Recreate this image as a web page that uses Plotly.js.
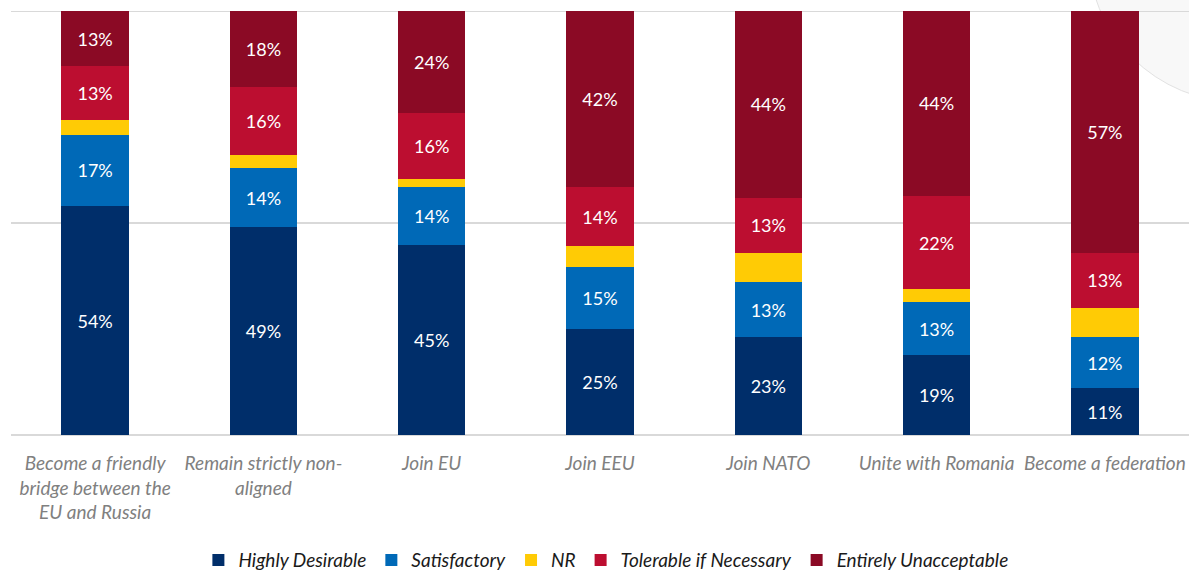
<!DOCTYPE html>
<html>
<head>
<meta charset="utf-8">
<script src="https://cdn.plot.ly/plotly-3.0.1.min.js"></script>
<style>
  html, body { margin: 0; padding: 0; background: #fff; }
  #chart { width: 1189px; height: 571px; }
</style>
</head>
<body>
<div id="chart"></div>
<script>
'use strict';

const categories = [
  'Become a friendly<br>bridge between the<br>EU and Russia',
  'Remain strictly non-<br>aligned',
  'Join EU',
  'Join EEU',
  'Join NATO',
  'Unite with Romania',
  'Become a federation'
];

// shares in % (labels show them rounded)
const highlyDesirable = [54, 49, 44.8, 25, 23, 18.8, 11];
const satisfactory    = [16.8, 14, 13.6, 14.6, 13, 12.6, 12];
const noResponse      = [3.6, 3, 1.9, 5, 7, 3, 7];
const tolerable       = [12.6, 16, 15.6, 13.8, 13, 22, 13];
const unacceptable    = [13, 18, 24.1, 41.6, 44, 43.6, 57];

const seriesNames  = ['Highly Desirable', 'Satisfactory', 'NR', 'Tolerable if Necessary', 'Entirely Unacceptable'];
const seriesValues = [highlyDesirable, satisfactory, noResponse, tolerable, unacceptable];
const seriesColors = ['#002E6A', '#0069B7', '#FFCB05', '#BC0E30', '#8B0A25'];
const showLabels   = [true, true, false, true, true];

const font = 'Lato, "Open Sans", sans-serif';

const data = seriesValues.map((vals, i) => ({
  type: 'bar',
  name: seriesNames[i],
  x: categories,
  y: vals,
  marker: { color: seriesColors[i], line: { width: 0 } },
  text: showLabels[i] ? vals.map(v => Math.round(v) + '%') : vals.map(() => ''),
  textposition: 'inside',
  insidetextanchor: 'middle',
  textangle: 0,
  textfont: { family: font, size: 18, color: '#ffffff' },
  hoverinfo: 'x+y+name'
}));

const layout = {
  width: 1189,
  height: 571,
  barmode: 'stack',
  bargap: 0.6,
  margin: { t: 11, l: 11, r: 0, b: 136, autoexpand: false },
  paper_bgcolor: '#ffffff',
  plot_bgcolor: 'rgba(0,0,0,0)',
  font: { family: font },
  showlegend: true,
  legend: {
    orientation: 'h',
    x: 0.505,
    xanchor: 'center',
    yref: 'container',
    y: 0.019,
    yanchor: 'middle',
    font: { family: font, size: 19, color: '#1a1a1a', style: 'italic' },
    itemwidth: 30,
    traceorder: 'normal'
  },
  xaxis: {
    tickfont: { family: font, size: 19, color: '#808080', style: 'italic' },
    showline: false,
    ticks: '',
    ticklabelstandoff: 15,
    automargin: false,
    fixedrange: true
  },
  yaxis: {
    range: [0, 100],
    dtick: 50,
    showticklabels: false,
    gridcolor: '#d9d9d9',
    gridwidth: 2,
    zeroline: true,
    zerolinecolor: '#d9d9d9',
    zerolinewidth: 2,
    automargin: false,
    fixedrange: true
  },
  shapes: [{
    type: 'circle',
    xref: 'paper', yref: 'paper',
    x0: 0.914, x1: 1.172,
    y0: 0.785, y1: 1.502,
    fillcolor: '#f8f8f8',
    line: { color: '#e2e2e2', width: 1 },
    layer: 'below'
  }, {
    type: 'line',
    xref: 'paper', yref: 'y',
    x0: 0, x1: 1, y0: 100, y1: 100,
    line: { color: '#d9d9d9', width: 2 },
    layer: 'below'
  }]
};

Plotly.newPlot('chart', data, layout, { displayModeBar: false, staticPlot: true });
</script>
</body>
</html>
